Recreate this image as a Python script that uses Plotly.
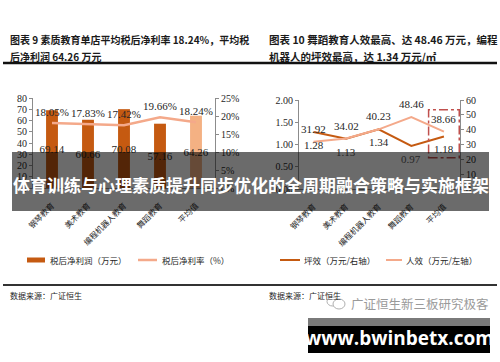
import plotly.graph_objects as go

# ---------------- data ----------------
categories = ["钢琴教育", "美术教育", "编程机器人教育", "舞蹈教育", "平均值"]
net_profit = [69.14, 60.66, 70.08, 57.16, 64.26]          # 税后净利润（万元）
net_margin = [0.1805, 0.1783, 0.1742, 0.1966, 0.1824]     # 税后净利率
area_eff = [1.28, 1.13, 1.34, 0.97, 1.18]                 # 坪效
staff_eff = [31.92, 34.02, 40.23, 48.46, 38.66]           # 人效

left_title_1 = "图表 9 素质教育单店平均税后净利率 18.24%，平均税"
left_title_2 = "后净利润 64.26 万元"
right_title_1 = "图表 10 舞蹈教育人效最高、达 48.46 万元，编程"
right_title_2 = "机器人的坪效最高，达 1.34 万元/㎡"
source_text = "数据来源：广证恒生"
banner_text = "体育训练与心理素质提升同步优化的全周期融合策略与实施框架"
wm_text = "广证恒生新三板研究极客"
url_text = "www.bwinbetx.com"

# ---------------- style ----------------
W, H = 500, 362
DARK = "#C55A11"
LIGHT = "#F4B183"
SALMON = "#F4A98A"
AXIS = "#8c8c8c"
TXT = "#262626"
CJK = "Noto Sans CJK SC"
SERIF = "Liberation Serif"


def px(x):
    return x / W


def py(y):
    return 1 - y / H


fig = go.Figure()

# left chart
fig.add_trace(go.Bar(
    x=categories, y=net_profit, xaxis="x", yaxis="y",
    marker=dict(color=[DARK] * 4 + [LIGHT], line=dict(width=0)),
    width=0.33,
    text=[f"{v:.2f}" for v in net_profit],
    textposition="inside", insidetextanchor="middle", textangle=0,
    constraintext="none",
    textfont=dict(family=SERIF, size=11, color=TXT),
    cliponaxis=False, showlegend=False, name="税后净利润（万元）",
))
fig.add_trace(go.Scatter(
    x=categories, y=net_margin, xaxis="x", yaxis="y2",
    mode="lines", line=dict(color=SALMON, width=2.5),
    cliponaxis=False, showlegend=False, name="税后净利率（%）",
))

# right chart
fig.add_trace(go.Scatter(
    x=categories, y=area_eff, xaxis="x2", yaxis="y3",
    mode="lines", line=dict(color=DARK, width=2),
    cliponaxis=False, showlegend=False, name="坪效（万元/右轴）",
))
fig.add_trace(go.Scatter(
    x=categories, y=staff_eff, xaxis="x2", yaxis="y4",
    mode="lines", line=dict(color=SALMON, width=2),
    cliponaxis=False, showlegend=False, name="人效（万元/左轴）",
))

tickfont_num = dict(family=SERIF, size=10, color=TXT)
tickfont_cat = dict(family=CJK, size=8, color=TXT)
common_y = dict(showline=True, linecolor=AXIS, linewidth=1, ticks="outside",
                ticklen=3, tickcolor=AXIS, showgrid=False, zeroline=False,
                tickfont=tickfont_num, fixedrange=True, automargin=False)
common_x = dict(type="category", showline=True, linecolor=AXIS, linewidth=1,
                ticks="", showgrid=False, zeroline=False, tickangle=-45,
                ticklabelstandoff=9,
                tickfont=tickfont_cat, fixedrange=True, automargin=False)

fig.update_layout(
    template="none",
    width=W, height=H, autosize=False,
    margin=dict(l=0, r=0, t=0, b=0, pad=0),
    paper_bgcolor="white", plot_bgcolor="white",
    showlegend=False,
    xaxis=dict(domain=[px(33), px(215)], anchor="y", **common_x),
    yaxis=dict(domain=[py(188), py(98)], anchor="x", range=[0, 80],
               dtick=10, **common_y),
    yaxis2=dict(overlaying="y", side="right", anchor="x", range=[0, 0.25],
                dtick=0.05, tickformat=".0%", **common_y),
    xaxis2=dict(domain=[px(299), px(460)], anchor="y3", **common_x),
    yaxis3=dict(domain=[py(189), py(100)], anchor="x2", range=[0, 2],
                dtick=0.5, tickformat=".2f", **common_y),
    yaxis4=dict(overlaying="y3", side="right", anchor="x2", range=[0, 60],
                dtick=10, **common_y),
)

shapes = []
ann = []

# data labels for lines
lab_font = dict(family=SERIF, size=11, color=TXT)
for c, v in zip(categories, net_margin):
    ann.append(dict(x=c, y=v, xref="x", yref="y2", text=f"{v * 100:.2f}%",
                    showarrow=False, yshift=11, font=lab_font))
for c, v in zip(categories, staff_eff):
    ann.append(dict(x=c, y=v, xref="x2", yref="y4", text=f"{v:.2f}",
                    showarrow=False, yshift=13, font=lab_font))
for c, v in zip(categories, area_eff):
    ann.append(dict(x=c, y=v, xref="x2", yref="y3", text=f"{v:.2f}",
                    showarrow=False, yshift=-13, font=lab_font))

# separators
shapes.append(dict(type="line", xref="paper", yref="paper", x0=px(3), x1=px(497),
                   y0=py(63), y1=py(63), line=dict(color="#111", width=2.5)))
shapes.append(dict(type="line", xref="paper", yref="paper", x0=px(3), x1=px(497),
                   y0=py(285), y1=py(285), line=dict(color="#333", width=2)))

# dashed highlight box around the last category of the right chart
shapes.append(dict(type="rect", xref="x2", yref="y3", x0=3.53, x1=4.47,
                   y0=0.70, y1=1.78,
                   line=dict(color="#C0504D", width=1.5, dash="dashdot")))

# titles
for x, y, t, s in [(8, 40, left_title_1, 10), (8, 57, left_title_2, 10),
                   (267, 40, right_title_1, 10.5), (267, 57, right_title_2, 10.5)]:
    ann.append(dict(x=px(x), y=py(y), xref="paper", yref="paper", text=f"<b>{t}</b>",
                    showarrow=False, xanchor="left", yanchor="middle",
                    font=dict(family=CJK, size=s, color="#1a1a1a")))

# manual legends
leg_y = 260
shapes.append(dict(type="rect", xref="paper", yref="paper", x0=px(27), x1=px(45),
                   y0=py(leg_y + 2.5), y1=py(leg_y - 2.5), fillcolor=DARK,
                   line=dict(width=0)))
shapes.append(dict(type="line", xref="paper", yref="paper", x0=px(138), x1=px(157),
                   y0=py(leg_y), y1=py(leg_y), line=dict(color=SALMON, width=2.5)))
shapes.append(dict(type="line", xref="paper", yref="paper", x0=px(280), x1=px(300),
                   y0=py(leg_y), y1=py(leg_y), line=dict(color=DARK, width=2)))
shapes.append(dict(type="line", xref="paper", yref="paper", x0=px(386), x1=px(402),
                   y0=py(leg_y), y1=py(leg_y), line=dict(color=SALMON, width=2)))
for x, t in [(48, "税后净利润（万元）"), (160, "税后净利率（%）"),
             (302, "坪效（万元/右轴）"), (404, "人效（万元/左轴）")]:
    ann.append(dict(x=px(x), y=py(leg_y), xref="paper", yref="paper", text=t,
                    showarrow=False, xanchor="left", yanchor="middle",
                    font=dict(family=CJK, size=8.5, color=TXT)))

# sources
for x in (8, 267):
    ann.append(dict(x=px(x), y=py(295), xref="paper", yref="paper", text=source_text,
                    showarrow=False, xanchor="left", yanchor="middle",
                    font=dict(family=CJK, size=8, color=TXT)))

# overlay banner
shapes.append(dict(type="rect", xref="paper", yref="paper", x0=px(12), x1=px(489),
                   y0=py(211), y1=py(152), fillcolor="rgba(0,0,0,0.58)",
                   line=dict(width=0), layer="above"))
ann.append(dict(x=px(250.5), y=py(184), xref="paper", yref="paper",
                text=f"<b>{banner_text}</b>", showarrow=False,
                xanchor="center", yanchor="middle",
                font=dict(family=CJK, size=17, color="white")))

# watermark
shapes.append(dict(type="circle", xref="paper", yref="paper", x0=px(327), x1=px(338),
                   y0=py(306), y1=py(297), line=dict(color="#b0b0b0", width=1)))
shapes.append(dict(type="circle", xref="paper", yref="paper", x0=px(333), x1=px(345),
                   y0=py(309), y1=py(299), line=dict(color="#b0b0b0", width=1),
                   fillcolor="white"))
ann.append(dict(x=px(349), y=py(303), xref="paper", yref="paper", text=wm_text,
                showarrow=False, xanchor="left", yanchor="middle",
                font=dict(family=CJK, size=12.5, color="#9a9a9a")))
shapes.append(dict(type="rect", xref="paper", yref="paper", x0=px(308), x1=px(490),
                   y0=py(326), y1=py(318), fillcolor="#7a7a7a", line=dict(width=0),
                   layer="above"))
shapes.append(dict(type="rect", xref="paper", yref="paper", x0=px(308), x1=px(490),
                   y0=py(353), y1=py(326), fillcolor="#000000", line=dict(width=0),
                   layer="above"))
ann.append(dict(x=px(399), y=py(338), xref="paper", yref="paper",
                text=f"<b>{url_text}</b>", showarrow=False,
                xanchor="center", yanchor="middle",
                font=dict(family="Open Sans", size=19, color="white")))

fig.update_layout(shapes=shapes, annotations=ann)

fig.write_html(
    "out.html",
    config={"displayModeBar": False},
    post_script="document.body.style.margin='0';document.body.style.overflow='hidden';",
)
